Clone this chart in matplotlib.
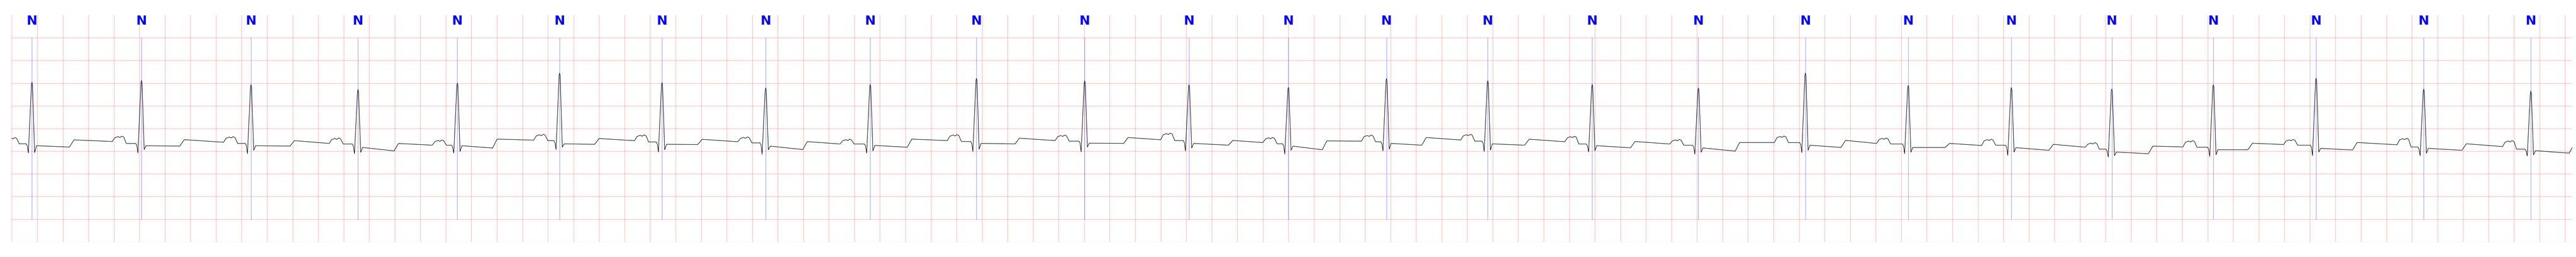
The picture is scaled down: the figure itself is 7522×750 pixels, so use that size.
import numpy as np
import matplotlib.pyplot as plt

# beat annotations: R-peak time (s) and label
r_time = [0.158, 1.016, 1.874, 2.712, 3.490, 4.291, 5.093, 5.905, 6.724, 7.556,
          8.404, 9.221, 9.999, 10.768, 11.561, 12.379, 13.211, 14.049, 14.854, 15.662,
          16.449, 17.244, 18.049, 18.892, 19.731]
labels = ['N'] * 25

# levels read per beat (mV)
r_amp = [1.02, 1.058, 0.965, 0.861, 1.0, 1.222, 1.013, 0.894, 0.97, 1.106,
         1.05, 0.965, 0.907, 1.101, 1.053, 0.975, 0.894, 1.222, 0.949, 0.904,
         0.869, 0.965, 1.109, 0.869, 0.823]
q_amp = [-0.54, -0.54, -0.558, -0.558, -0.545, -0.465, -0.52, -0.571, -0.545, -0.508,
         -0.515, -0.495, -0.566, -0.495, -0.508, -0.52, -0.566, -0.533, -0.558, -0.596,
         -0.63, -0.62, -0.6, -0.602, -0.609]
s_amp = [-0.533, -0.465, -0.482, -0.528, -0.508, -0.414, -0.47, -0.47, -0.495, -0.457,
         -0.41, -0.432, -0.482, -0.457, -0.477, -0.49, -0.525, -0.482, -0.525, -0.52,
         -0.6, -0.58, -0.52, -0.548, -0.583]
pr_lvl = [-0.338, -0.331, -0.331, -0.343, -0.369, -0.268, -0.298, -0.318, -0.343, -0.288,
          -0.28, -0.268, -0.338, -0.293, -0.28, -0.343, -0.369, -0.313, -0.343, -0.369,
          -0.457, -0.414, -0.369, -0.41, -0.457]
st_lvl = [-0.381, -0.381, -0.381, -0.419, -0.381, -0.34, -0.35, -0.39, -0.375, -0.33,
          -0.325, -0.33, -0.39, -0.33, -0.34, -0.38, -0.43, -0.37, -0.42, -0.424,
          -0.52, -0.47, -0.44, -0.44, -0.49]
dip_lvl = [-0.41, -0.39, -0.39, -0.495, -0.432, -0.35, -0.355, -0.465, -0.414, -0.34,
           -0.33, -0.369, -0.47, -0.369, -0.369, -0.427, -0.5, -0.419, -0.42, -0.482,
           -0.558, -0.47, -0.475, -0.482, -0.545]
t_lvl = [-0.252, -0.247, -0.268, -0.331, -0.235, -0.222, -0.24, -0.29, -0.235, -0.215,
         -0.2, -0.265, -0.275, -0.2, -0.237, -0.288, -0.31, -0.263, -0.33, -0.35,
         -0.39, -0.326, -0.31, -0.338, -0.42]
late_lvl = [-0.288, -0.305, -0.331, -0.369, -0.258, -0.27, -0.293, -0.343, -0.268, -0.268,
            -0.25, -0.311, -0.28, -0.255, -0.293, -0.343, -0.31, -0.331, -0.376, -0.414,
            -0.407, -0.355, -0.36, -0.4, -0.42]
p_peak = [-0.2, -0.17, -0.18, -0.21, -0.255, -0.129, -0.141, -0.187, -0.237, -0.136,
          -0.146, -0.104, -0.197, -0.146, -0.129, -0.172, -0.242, -0.167, -0.21, -0.237,
          -0.313, -0.268, -0.242, -0.217, -0.268]
# onset of P (before R) and of T (after R), s
p_on = [-0.21, -0.229, -0.215, -0.226, -0.196, -0.203, -0.215, -0.218, -0.236, -0.228,
        -0.232, -0.222, -0.199, -0.196, -0.212, -0.215, -0.225, -0.243, -0.248, -0.233,
        -0.208, -0.238, -0.255, -0.209, -0.222]
t_on = [0.294, 0.30, 0.305, 0.282, 0.276, 0.274, 0.279, 0.291, 0.29, 0.302,
        0.305, 0.308, 0.266, 0.276, 0.289, 0.30, 0.288, 0.279, 0.289, 0.294,
        0.286, 0.271, 0.286, 0.299, 0.30]
lead_lvl = -0.27
t_end = 20.056
end_lvl = -0.42

# build the trace beat by beat
t = []
v = []
n = len(r_time)
for i in range(n):
    R = r_time[i]
    pp = p_peak[i]
    prev = lead_lvl if i == 0 else late_lvl[i - 1]
    p0 = R + p_on[i]
    t += [p0, p0 + 0.02, p0 + 0.045, p0 + 0.06, p0 + 0.075, p0 + 0.09, p0 + 0.11]
    v += [prev, pp - 0.035, pp - 0.01, pp - 0.03, pp, pp - 0.02, pr_lvl[i]]
    t += [R - 0.045, R - 0.036, R - 0.028, R - 0.004, R, R + 0.004, R + 0.021, R + 0.036]
    v += [pr_lvl[i], pr_lvl[i] - 0.05, q_amp[i], r_amp[i] - 0.05, r_amp[i], r_amp[i] - 0.05,
          s_amp[i], st_lvl[i]]
    t += [R + t_on[i]]
    v += [dip_lvl[i]]
    if i < n - 1:
        t += [R + t_on[i] + 0.035]
        v += [t_lvl[i]]
    else:
        t += [t_end]
        v += [end_lvl]

fig = plt.figure(figsize=(75.22, 7.5), dpi=100)
ax = fig.add_axes([34.4 / 7522, 1 - 705.7 / 750, (7511.3 - 34.4) / 7522, 661.7 / 750])

ax.plot(t, v, color='black', lw=1.0)

for rt, lab in zip(r_time, labels):
    ax.axvline(rt, ymin=0.1, ymax=0.9, color='blue', lw=0.8, alpha=0.5)
    ax.text(rt, 1.0, lab, transform=ax.get_xaxis_transform(), ha='center', va='top',
            color='blue', fontsize=27, fontweight='bold')

ax.set_xlim(0, t_end)
ax.set_ylim(-2.5, 2.5)
ax.set_xticks(np.arange(0, 20.01, 0.2))
ax.set_yticks(np.arange(-2.5, 2.4, 0.5))
ax.grid(True, color='red', alpha=0.3, lw=1.0)
ax.tick_params(left=False, bottom=False, labelleft=False, labelbottom=False)
for sp in ax.spines.values():
    sp.set_visible(False)

fig.savefig('out.png', dpi=100)
